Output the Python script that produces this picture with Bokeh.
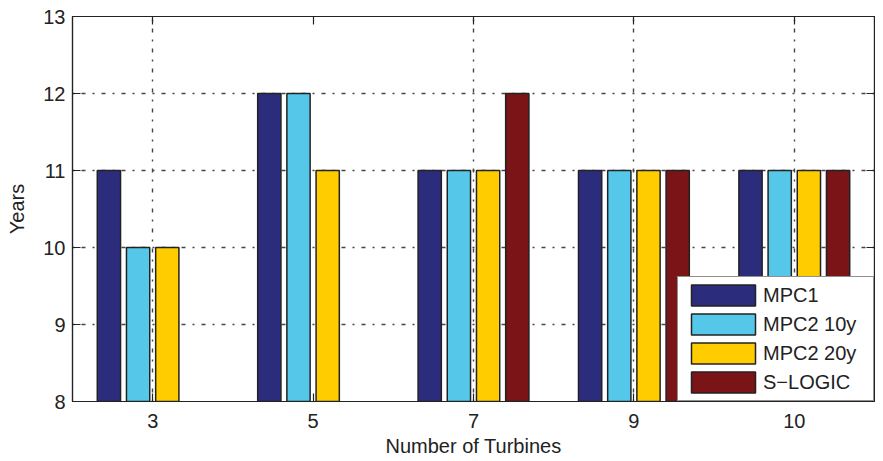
from bokeh.plotting import figure
from bokeh.models import (ColumnDataSource, FactorRange, Range1d, Legend, LegendItem,
                          LinearAxis, CategoricalAxis, FixedTicker, CustomJSTickFormatter)
from bokeh.transform import dodge
from bokeh.embed import file_html
from bokeh.resources import INLINE

turbines = ["3", "5", "7", "9", "10"]
mpc1 = [11, 12, 11, 11, 11]
mpc2_10y = [10, 12, 11, 11, 11]
mpc2_20y = [10, 11, 11, 11, 11]
s_logic = [float("nan"), float("nan"), 12, 11, 11]
series_names = ["MPC1", "MPC2 10y", "MPC2 20y", "S\u2212LOGIC"]
series_cols = ["mpc1", "mpc2_10y", "mpc2_20y", "s_logic"]
series_colors = ["#2b2d7c", "#55c8ea", "#ffcc00", "#7a1416"]
y_ticks = [8, 9, 10, 11, 12, 13]

FONT = "Liberation Sans"
TXT = "#222222"

src = ColumnDataSource(dict(turbines=turbines, mpc1=mpc1, mpc2_10y=mpc2_10y,
                            mpc2_20y=mpc2_20y, s_logic=s_logic))

p = figure(x_range=FactorRange(factors=turbines, range_padding=0),
           y_range=Range1d(8, 13),
           frame_width=802, frame_height=385,
           min_border_left=72, min_border_top=16, min_border_right=1, min_border_bottom=10,
           output_backend="svg", toolbar_location=None)

renderers = []
for i, (col, color) in enumerate(zip(series_cols, series_colors)):
    off = (i - 1.5) * 0.182
    r = p.vbar(x=dodge("turbines", off, range=p.x_range), top=col, bottom=0,
               width=0.145, source=src, fill_color=color,
               line_color="#222222", line_width=1.5)
    renderers.append(r)

legend = Legend(items=[LegendItem(label=n, renderers=[r]) for n, r in zip(series_names, renderers)],
                location="bottom_right", margin=0, padding=5, spacing=3,
                glyph_width=80, glyph_height=26, label_standoff=0, label_width=105,
                label_height=22,
                label_text_font=FONT, label_text_font_size="20px", label_text_color=TXT,
                border_line_color="#222222", border_line_width=1.5,
                background_fill_color="white", background_fill_alpha=1)
p.add_layout(legend)

yt = FixedTicker(ticks=y_ticks)
p.yaxis.ticker = yt
p.ygrid.ticker = yt

for ax in (p.xaxis[0], p.yaxis[0]):
    ax.major_tick_in = 8
    ax.major_tick_out = 0
    ax.minor_tick_line_color = None
    ax.axis_line_color = "#222222"
    ax.axis_line_width = 1.2
    ax.major_tick_line_color = "#222222"
    ax.major_tick_line_width = 1.2
    ax.major_label_text_font = FONT
    ax.major_label_text_font_size = "20px"
    ax.major_label_text_color = TXT
    ax.axis_label_text_font = FONT
    ax.axis_label_text_font_size = "20px"
    ax.axis_label_text_font_style = "normal"
    ax.axis_label_text_color = TXT

p.xaxis.axis_label = "Number of Turbines"
p.yaxis.axis_label = "Years"
p.xaxis.major_label_standoff = 12
p.yaxis.major_label_standoff = 7
p.xaxis.axis_label_standoff = 4
p.yaxis.axis_label_standoff = 12

right_ax = LinearAxis(ticker=FixedTicker(ticks=y_ticks),
                      formatter=CustomJSTickFormatter(code="return ''"),
                      major_tick_in=8, major_tick_out=0, major_label_standoff=0,
                      minor_tick_line_color=None, axis_line_color="#222222",
                      axis_line_width=1.2, major_tick_line_color="#222222",
                      major_tick_line_width=1.2)
p.add_layout(right_ax, "right")
top_ax = CategoricalAxis(formatter=CustomJSTickFormatter(code="return ''"),
                         major_tick_in=8, major_tick_out=0, major_label_standoff=0,
                         minor_tick_line_color=None, axis_line_color="#222222",
                         axis_line_width=1.2, major_tick_line_color="#222222",
                         major_tick_line_width=1.2)
p.add_layout(top_ax, "above")

for g in (p.xgrid[0], p.ygrid[0]):
    g.grid_line_color = "#444444"
    g.grid_line_width = 1.4
    g.grid_line_dash = "2 7 4 7"

p.outline_line_color = "#222222"
p.outline_line_width = 1.2
p.background_fill_color = "white"
p.border_fill_color = "white"

open("out.html", "w").write(file_html(p, INLINE))
